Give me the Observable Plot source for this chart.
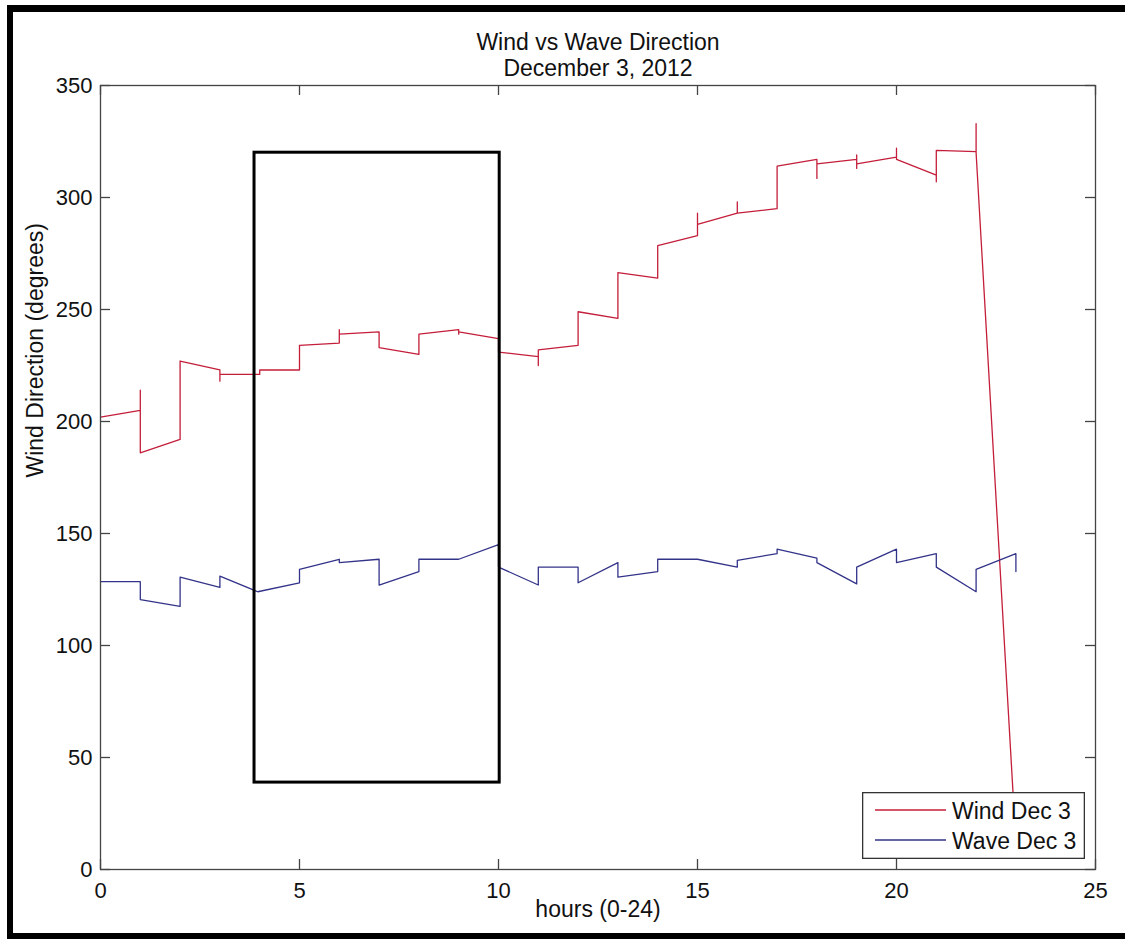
<!DOCTYPE html>
<html>
<head>
<meta charset="utf-8">
<script src="https://cdn.jsdelivr.net/npm/d3@7"></script>
<script src="https://cdn.jsdelivr.net/npm/@observablehq/plot@0.6"></script>
<style>
  body { margin: 0; background: #fff; overflow: hidden; }
  #wrap { position: relative; width: 1125px; height: 939px; overflow: hidden; font-family: "Liberation Sans", Arial, sans-serif; }
  #chart { position: absolute; left: 0; top: 0; }
  #legend { position: absolute; left: 862px; top: 792px; }
  #border { position: absolute; left: 7px; top: 5px; width: 1140px; height: 934px; border: 6px solid #000; border-top-width: 7px; box-sizing: border-box; pointer-events: none; }
</style>
</head>
<body>
<div id="wrap">
  <div id="chart"></div>
  <div id="legend"></div>
  <div id="border"></div>
</div>
<script>
// ---- data ----
const titleLines = ["Wind vs Wave Direction", "December 3, 2012"];
const xLabel = "hours (0-24)";
const yLabel = "Wind Direction (degrees)";
const seriesNames = ["Wind Dec 3", "Wave Dec 3"];
const seriesColors = ["#c41e3a", "#33338a"];

const windHours = [0, 1, 1, 1, 2, 2, 3, 3, 3, 4, 4, 5, 5, 6, 6, 6, 7, 7, 8, 8, 9, 9, 9, 10, 10, 11, 11, 11, 12, 12, 13, 13, 14, 14, 15, 15, 15, 16, 16, 16, 17, 17, 18, 18, 18, 19, 19, 19, 19, 20, 20, 20, 21, 21, 21, 22, 22, 22, 23];
const windDeg   = [202, 205, 214, 186, 192, 227, 223, 218, 221, 221, 223, 223, 234, 235, 241, 239, 240, 233, 230, 239, 241, 239, 240, 237, 231, 229, 225, 232, 234, 249, 246, 266.5, 264, 278.5, 283, 293, 288, 293, 298, 293, 295, 314, 317, 308.5, 315, 317, 313, 319, 315, 318, 322, 317, 310, 307, 321, 320.5, 333, 320, 12];

const waveHours = [0, 1, 1, 2, 2, 3, 3, 3.95, 5, 5, 6, 6, 7, 7, 8, 8, 9, 10, 10, 11, 11, 12, 12, 13, 13, 14, 14, 15, 16, 16, 17, 17, 18, 18, 19, 19, 20, 20, 21, 21, 22, 22, 23, 23];
const waveDeg   = [128.5, 128.5, 120.5, 117.5, 130.5, 126, 131, 124, 128, 134, 138.5, 137, 138.5, 127, 133, 138.5, 138.5, 145, 135, 127, 135, 135, 128, 137, 130.5, 133, 138.5, 138.5, 135, 138, 141, 143, 139, 137, 127.5, 135, 143, 137, 141, 135, 124, 134, 141, 133];

const xTicks = [0, 5, 10, 15, 20, 25];
const yTicks = [0, 50, 100, 150, 200, 250, 300, 350];
const boxHours = [3.87, 10.03];
const boxDeg = [38.8, 320];

// ---- build tables ----
const wind = windHours.map((h, i) => ({h, d: windDeg[i]}));
const wave = waveHours.map((h, i) => ({h, d: waveDeg[i]}));
const box = [{x1: boxHours[0], x2: boxHours[1], y1: boxDeg[0], y2: boxDeg[1]}];

const W = 1125, H = 939, mL = 100, mR = 30, mT = 85, mB = 70;
const frameW = W - mL - mR, frameH = H - mT - mB, tick = 10;
const axisColor = "#444";
const font = "Liberation Sans, Arial, sans-serif";

const chart = Plot.plot({
  width: W, height: H,
  marginLeft: mL, marginRight: mR, marginTop: mT, marginBottom: mB,
  x: {domain: [xTicks[0], xTicks[xTicks.length - 1]]},
  y: {domain: [yTicks[0], yTicks[yTicks.length - 1]]},
  style: {fontFamily: font, fontSize: "22px", color: "#111", background: "transparent"},
  marks: [
    Plot.line(wind, {x: "h", y: "d", stroke: seriesColors[0], strokeWidth: 1.3}),
    Plot.line(wave, {x: "h", y: "d", stroke: seriesColors[1], strokeWidth: 1.3}),
    Plot.rect(box, {x1: "x1", x2: "x2", y1: "y1", y2: "y2", fill: "none", stroke: "#000", strokeWidth: 3}),
    Plot.frame({stroke: axisColor, strokeWidth: 1.3}),
    Plot.tickX(xTicks, {x: d => d, insetTop: frameH - tick, stroke: axisColor, strokeWidth: 1.3}),
    Plot.tickX(xTicks, {x: d => d, insetBottom: frameH - tick, stroke: axisColor, strokeWidth: 1.3}),
    Plot.tickY(yTicks, {y: d => d, insetRight: frameW - tick, stroke: axisColor, strokeWidth: 1.3}),
    Plot.tickY(yTicks, {y: d => d, insetLeft: frameW - tick, stroke: axisColor, strokeWidth: 1.3}),
    Plot.axisX(xTicks, {tickSize: 0, tickPadding: 13, fontSize: 22, label: null, fill: "#111"}),
    Plot.axisY(yTicks, {tickSize: 0, tickPadding: 8, fontSize: 22, label: null, fill: "#111"}),
    Plot.text([titleLines[0]], {frameAnchor: "top", dy: -52, fontSize: 23, fill: "#111"}),
    Plot.text([titleLines[1]], {frameAnchor: "top", dy: -26, fontSize: 23, fill: "#111"}),
    Plot.text([xLabel], {frameAnchor: "bottom", dy: 47, fontSize: 23, fill: "#111"}),
    Plot.text([yLabel], {frameAnchor: "left", dx: -65, rotate: -90, fontSize: 23, fill: "#111"})
  ]
});
document.getElementById("chart").appendChild(chart);

// ---- legend ----
const lw = 223, lh = 67;
const leg = d3.select("#legend").append("svg").attr("width", lw).attr("height", lh)
  .style("font-family", font).style("font-size", "23px");
leg.append("rect").attr("x", 0.65).attr("y", 0.65).attr("width", lw - 1.3).attr("height", lh - 1.3)
  .attr("fill", "#fff").attr("stroke", "#333").attr("stroke-width", 1.3);
seriesNames.forEach((name, i) => {
  const cy = 18 + i * 30;
  leg.append("line").attr("x1", 13).attr("x2", 84).attr("y1", cy).attr("y2", cy)
    .attr("stroke", seriesColors[i]).attr("stroke-width", 1.4);
  leg.append("text").attr("x", 90).attr("y", cy + 9).attr("fill", "#111").text(name);
});
</script>
</body>
</html>
